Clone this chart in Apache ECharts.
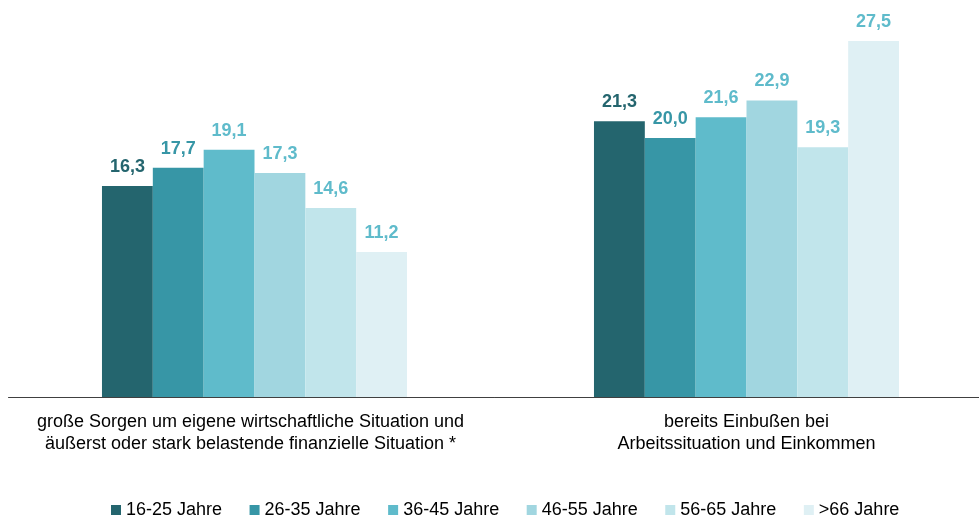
<!DOCTYPE html>
<html><head><meta charset="utf-8">
<script src="https://cdn.jsdelivr.net/npm/echarts@6/dist/echarts.min.js"></script>
<style>html,body{margin:0;padding:0;background:#fff}#c{width:979px;height:518px}</style>
</head><body><div id="c"></div>
<script>
const categories = ['große Sorgen um eigene wirtschaftliche Situation und\näußerst oder stark belastende finanzielle Situation *', 'bereits Einbußen bei\nArbeitssituation und Einkommen'];
const seriesNames = ['16-25 Jahre', '26-35 Jahre', '36-45 Jahre', '46-55 Jahre', '56-65 Jahre', '>66 Jahre'];
const v1625 = [16.3, 21.3];
const v2635 = [17.7, 20.0];
const v3645 = [19.1, 21.6];
const v4655 = [17.3, 22.9];
const v5665 = [14.6, 19.3];
const v66 = [11.2, 27.5];
const values = [v1625, v2635, v3645, v4655, v5665, v66];

const colors = ['#24656e', '#3796a6', '#5fbbcb', '#a1d6e0', '#c1e5eb', '#dff0f4'];
const labelColors = ['#24656e', '#3796a6', '#5fbbcb', '#5fbbcb', '#5fbbcb', '#5fbbcb'];
const font = 'Liberation Sans, Arial, sans-serif';

const chart = echarts.init(document.getElementById('c'));
chart.setOption({
  animation: false,
  textStyle: { fontFamily: font },
  grid: { left: 8.5, right: -13.5, top: 8.6, bottom: 121, containLabel: false, outerBoundsMode: 'none' },
  legend: {
    left: 106, top: 496,
    itemWidth: 10, itemHeight: 10, itemGap: 27.5,
    icon: 'rect',
    textStyle: { fontSize: 18, color: '#000', fontFamily: font },
    data: seriesNames
  },
  xAxis: {
    type: 'category',
    data: categories.map((c, i) => i === 0 ? { value: c, textStyle: { padding: [0, 8, 0, 0] } } : c),
    axisTick: { show: false },
    axisLine: { lineStyle: { color: '#404040', width: 1 } },
    axisLabel: { fontSize: 18, color: '#000', lineHeight: 21.7, margin: 14.5, interval: 0, fontFamily: font }
  },
  yAxis: { type: 'value', min: 0, max: 30, show: false, splitLine: { show: false } },
  series: seriesNames.map((n, i) => ({
    name: n, type: 'bar', data: values[i],
    barGap: '0%', barCategoryGap: '38%',
    itemStyle: { color: colors[i] },
    label: {
      show: true, position: 'top', distance: 10,
      color: labelColors[i], fontWeight: 'bold', fontSize: 18, fontFamily: font,
      formatter: p => p.value.toFixed(1).replace('.', ',')
    }
  }))
});
</script></body></html>
